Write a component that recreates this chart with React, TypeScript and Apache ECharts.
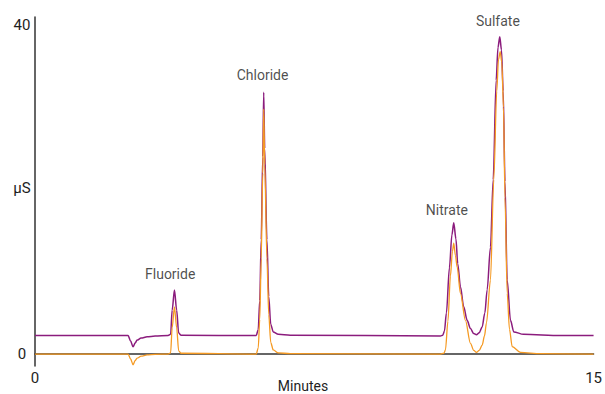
import React, { useEffect, useRef } from "react";
import * as echarts from "echarts";

// Axis tick labels
const xTickLabels = [0, 15];
const yTickLabels = [0, 40];

// Peak annotations: name, time (min), height (µS) where the label sits
const peakNames = ["Fluoride", "Chloride", "Nitrate", "Sulfate"];
const peakLabelTime = [3.63, 6.11, 11.06, 12.43];
const peakLabelValue = [9.8, 34.0, 17.5, 40.5];

// Purple trace: [minutes, µS]
const purpleTrace: [number, number][] = [
  [0, 2.25], [2.5, 2.25], [2.567, 1.58], [2.634, 0.89], [2.688, 1.34], [2.742, 1.7],
  [2.849, 1.95], [3.011, 2.1], [3.226, 2.19], [3.575, 2.25],
  [3.642, 2.4], [3.683, 5.35], [3.745, 7.78], [3.804, 5.35], [3.858, 2.55], [3.925, 2.3],
  [5.941, 2.25], [5.995, 3.0], [6.035, 6.5], [6.075, 13.9], [6.116, 24], [6.142, 31.85],
  [6.169, 25], [6.228, 13.9], [6.277, 7], [6.331, 3.6], [6.398, 2.7], [6.532, 2.4], [6.855, 2.3],
  [10.887, 2.2], [10.95, 2.3], [10.995, 2.8], [11.048, 5], [11.129, 10.5], [11.196, 14.5], [11.245, 15.96],
  [11.304, 14.0], [11.352, 11.0], [11.425, 8.2], [11.513, 5.75], [11.605, 4.1], [11.694, 3.1],
  [11.782, 2.5], [11.855, 2.35], [11.93, 2.6], [12.008, 3.3], [12.08, 5.0], [12.142, 7.8],
  [12.231, 13.0], [12.304, 21.2],
  [12.384, 33.3], [12.433, 37.3], [12.481, 38.6], [12.527, 37], [12.573, 32],
  [12.621, 21], [12.68, 9.0], [12.769, 4.1], [12.858, 2.7], [13.118, 2.4], [14.113, 2.27], [15, 2.25],
];

// Orange trace: [minutes, µS]
const orangeTrace: [number, number][] = [
  [0, 0], [2.5, 0], [2.567, -0.6], [2.634, -1.3], [2.688, -0.8], [2.742, -0.5],
  [2.849, -0.25], [3.011, -0.1], [3.226, -0.03], [3.575, 0],
  [3.642, 0.15], [3.683, 3.2], [3.745, 5.75], [3.804, 3.2], [3.858, 0.4], [3.925, 0.1],
  [5.941, 0], [5.995, 0.75], [6.035, 4.2], [6.075, 11.6], [6.116, 22], [6.142, 29.8],
  [6.169, 23], [6.228, 11.6], [6.277, 4.8], [6.331, 1.4], [6.398, 0.5], [6.532, 0.15], [6.855, 0.05],
  [10.887, 0], [10.98, 0.1], [11.022, 0.5], [11.089, 4], [11.156, 9.5], [11.21, 12.5], [11.245, 13.5],
  [11.29, 12], [11.336, 10.6], [11.425, 7.4], [11.559, 4.1], [11.694, 1.3], [11.782, 0.45],
  [11.855, 0.2], [11.93, 0.45], [12.008, 1.1], [12.07, 2.2], [12.124, 3.8], [12.231, 9.0],
  [12.32, 21.2], [12.4, 32], [12.446, 35.8],
  [12.492, 36.8], [12.535, 35.5], [12.581, 30], [12.621, 19], [12.68, 7.4], [12.742, 3],
  [12.815, 0.9], [13.038, 0.2], [13.575, 0.05], [15, 0],
];

const PURPLE = "#8B1C7D";
const ORANGE = "#F59A23";
const TEXT = "#1e1e1e";
const FONT = "Roboto, 'Liberation Sans', sans-serif";

export default function App() {
  const ref = useRef<HTMLDivElement>(null);

  useEffect(() => {
    if (!ref.current) return;
    const chart = echarts.init(ref.current, undefined, { renderer: "svg" });
    chart.setOption({
      animation: false,
      backgroundColor: "#ffffff",
      grid: { left: 35, right: 11, top: 17, bottom: 28, containLabel: false },
      xAxis: {
        type: "value",
        min: 0,
        max: 15,
        axisLine: { show: true, lineStyle: { color: "#333333", width: 1.5 } },
        axisTick: { show: false },
        splitLine: { show: false },
        axisLabel: {
          customValues: xTickLabels,
          margin: 4,
          color: TEXT,
          fontSize: 15,
          fontFamily: FONT,
        },
      },
      yAxis: {
        type: "value",
        min: -1.45,
        max: 41,
        axisLine: { show: true, onZero: false, lineStyle: { color: "#333333", width: 1.5 } },
        axisTick: { show: false },
        splitLine: { show: false },
        axisLabel: {
          customValues: yTickLabels,
          margin: 13,
          align: "center",
          color: TEXT,
          fontSize: 15,
          fontFamily: FONT,
        },
      },
      graphic: [
        {
          type: "text",
          x: 22,
          y: 188,
          style: {
            text: "µS",
            fill: TEXT,
            font: `15px ${FONT}`,
            textAlign: "center",
            textVerticalAlign: "middle",
          },
        },
        {
          type: "text",
          x: 303,
          y: 386,
          style: {
            text: "Minutes",
            fill: TEXT,
            font: `14px ${FONT}`,
            textAlign: "center",
            textVerticalAlign: "middle",
          },
        },
      ],
      series: [
        {
          type: "line",
          data: purpleTrace,
          showSymbol: false,
          symbol: "none",
          smooth: 0.3,
          smoothMonotone: "x",
          lineStyle: { color: PURPLE, width: 1.5 },
          z: 2,
        },
        {
          type: "line",
          data: orangeTrace,
          showSymbol: false,
          symbol: "none",
          smooth: 0.3,
          smoothMonotone: "x",
          lineStyle: { color: ORANGE, width: 1.3 },
          z: 3,
        },
        {
          type: "scatter",
          symbolSize: 0,
          data: peakNames.map((n, i) => ({ name: n, value: [peakLabelTime[i], peakLabelValue[i]] })),
          label: {
            show: true,
            position: "inside",
            formatter: (p: any) => p.name,
            color: TEXT,
            fontSize: 14,
            fontFamily: FONT,
          },
          z: 4,
        },
      ],
    });
    return () => chart.dispose();
  }, []);

  return (
    <div
      ref={ref}
      style={{ position: "fixed", left: 0, top: 0, width: 605, height: 394 }}
    />
  );
}
